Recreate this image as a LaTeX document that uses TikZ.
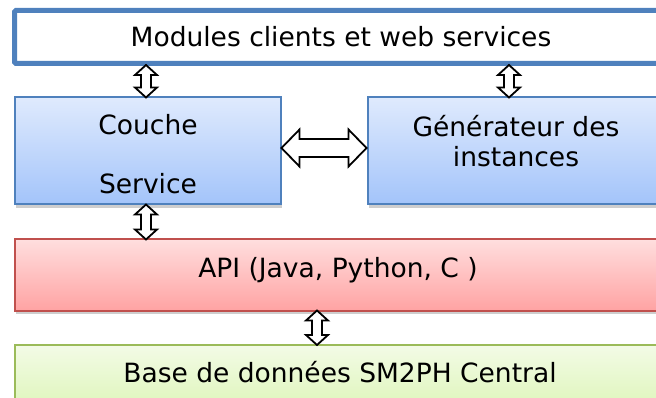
\documentclass[tikz,border=0pt]{standalone}
\usepackage{fontspec}
\setmainfont{DejaVu Sans}
\usetikzlibrary{shadows,calc}
\definecolor{blueline}{HTML}{4F81BD}
\definecolor{bluetop}{RGB}{223,234,253}
\definecolor{bluebot}{RGB}{163,196,250}
\definecolor{redline}{HTML}{C0504D}
\definecolor{redtop}{RGB}{255,222,222}
\definecolor{redbot}{RGB}{255,163,163}
\definecolor{greenline}{HTML}{9BBB59}
\definecolor{greentop}{RGB}{243,251,230}
\definecolor{greenbot}{RGB}{220,245,182}
\tikzset{
  boxshadow/.style={drop shadow={shadow xshift=1pt, shadow yshift=-3.5pt, opacity=0.35, fill=black!55}},
  topbox/.style={draw=blueline, line width=5pt, fill=white, rounded corners=1.5pt, inner sep=0pt},
  bluebox/.style={draw=blueline, line width=2pt, top color=bluetop, bottom color=bluebot, inner sep=0pt, boxshadow},
  redbox/.style={draw=redline, line width=2pt, top color=redtop, bottom color=redbot, inner sep=0pt, boxshadow},
  greenbox/.style={draw=greenline, line width=2pt, top color=greentop, bottom color=greenbot, inner sep=0pt},
  lbl/.style={font=\fontsize{26.5}{30}\selectfont, inner sep=0pt, anchor=base, text=black},
  blockarrow/.style={draw=black, line width=1.8pt, fill=white, line join=miter},
}
\begin{document}
\begin{tikzpicture}[x=1pt,y=-1pt]
\useasboundingbox (0,0) rectangle (656,398);
\clip (0,0) rectangle (656,398);
% boxes
\node[topbox, minimum width=653.5pt, minimum height=53pt] (mod) at (341.25,37) {};
\node[bluebox, minimum width=266pt, minimum height=107pt] (couche) at (147.5,151) {};
\node[bluebox, minimum width=298.5pt, minimum height=107pt] (gen) at (516.75,151) {};
\node[redbox, minimum width=651.5pt, minimum height=71pt] (api) at (340.25,275) {};
\node[greenbox, minimum width=651.5pt, minimum height=70pt] (base) at (340.25,380) {};
% texts
\node[lbl] (tmod) at (341,47) {Modules clients et web services};
\node[lbl] (tcouche) at (148,135) {Couche};
\node[lbl] (tservice) at (148,194) {Service};
\node[lbl] (tgen1) at (516,137) {Générateur des};
\node[lbl] (tgen2) at (516,167) {instances};
\node[lbl] (tapi) at (338,277) {API (Java, Python, C )};
\node[lbl] (tbase) at (340,382) {Base de données SM2PH Central};
% anchor columns for vertical arrows
\coordinate (c1) at (146,0);
\coordinate (c2) at (509,0);
\coordinate (c3) at (317,0);
% vertical block arrows
\foreach \a/\b/\c in {mod/couche/c1, mod/gen/c2, couche/api/c1, api/base/c3}{
  \draw[blockarrow] let \p1=($(\a.south -| \c)+(0,-1)$), \p2=($(\b.north -| \c)+(0,1)$) in
    (\x1,\y1) -- (\x1+11pt,\y1-10pt) -- (\x1+5pt,\y1-10pt) -- (\x2+5pt,\y2+10pt) -- (\x2+11pt,\y2+10pt)
    -- (\x2,\y2) -- (\x2-11pt,\y2+10pt) -- (\x2-5pt,\y2+10pt) -- (\x1-5pt,\y1-10pt) -- (\x1-11pt,\y1-10pt) -- cycle;
}
% horizontal block arrow between couche and gen
\draw[blockarrow] let \p1=(couche.east), \p2=(gen.west) in
  (\x1,\y1+3pt) -- (\x1+18pt,\y1+21.5pt) -- (\x1+18pt,\y1+12pt) -- (\x2-18pt,\y1+12pt) -- (\x2-18pt,\y1+21.5pt)
  -- (\x2,\y1+3pt) -- (\x2-18pt,\y1-15.5pt) -- (\x2-18pt,\y1-6pt) -- (\x1+18pt,\y1-6pt) -- (\x1+18pt,\y1-15.5pt) -- cycle;
\end{tikzpicture}
\end{document}
